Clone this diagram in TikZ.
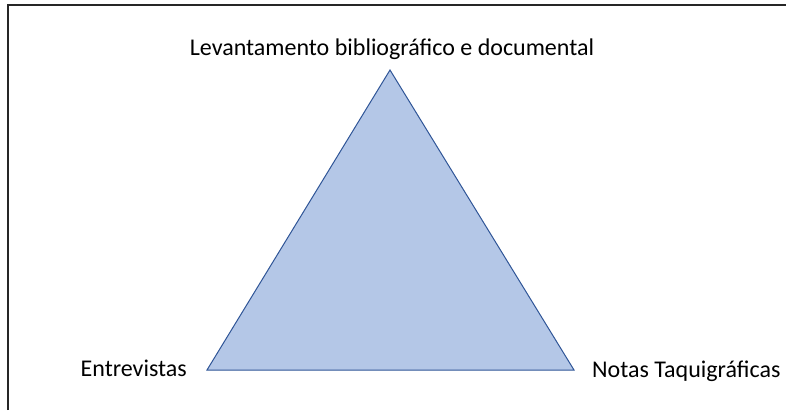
\documentclass[tikz,border=0pt]{standalone}
\usepackage{fontspec}
\setmainfont{Carlito}
\definecolor{trifill}{HTML}{B4C7E7}
\definecolor{triline}{HTML}{2F5597}
\begin{document}
\begin{tikzpicture}[x=1pt,y=1pt,
  lbl/.style={font=\fontsize{24}{28}\selectfont, inner sep=0pt, text=black},
  frame/.style={line width=1.8pt, black!85}]
\useasboundingbox (0,0) rectangle (786,410);
\draw[frame] (8,0) -- (8,405) -- (786,405);
\coordinate (A) at (390,340);
\coordinate (B) at (207,40);
\coordinate (C) at (574,40);
\draw[fill=trifill, draw=triline, line width=1pt, line join=miter] (A) -- (B) -- (C) -- cycle;
\node[lbl] (top) at (392,361) {Levantamento bibliográfico e documental};
\node[lbl, anchor=east] (ent) at (187,42) {Entrevistas};
\node[lbl, anchor=west] (not) at (592,39) {Notas Taquigráficas};
\end{tikzpicture}
\end{document}
